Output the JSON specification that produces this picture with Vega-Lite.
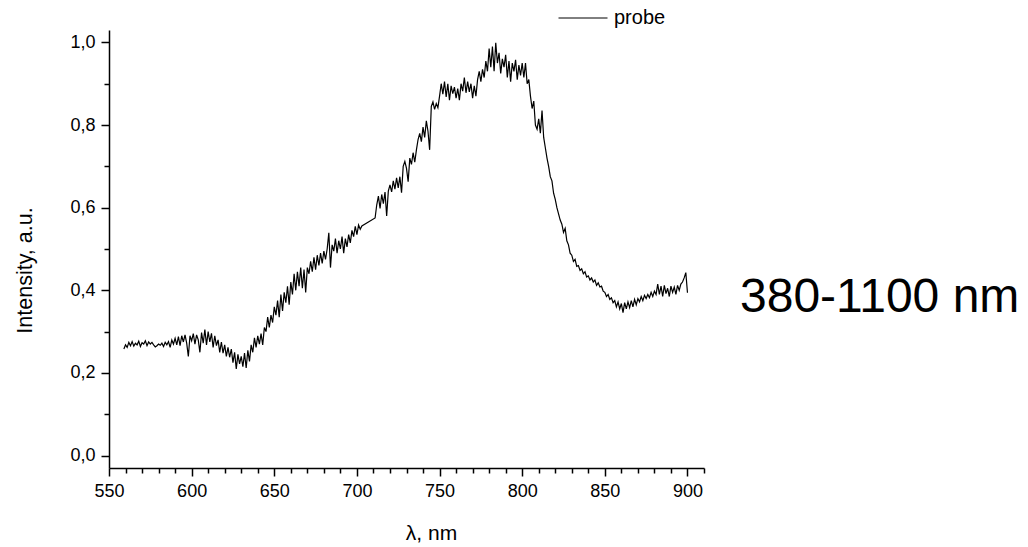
{
  "$schema": "https://vega.github.io/schema/vega-lite/v6.json",
  "autosize": "none",
  "padding": {"left": 109, "top": 30, "right": 324, "bottom": 79},
  "width": 595,
  "height": 438,
  "background": "white",
  "config": {"view": {"stroke": null}, "font": "Liberation Sans"},
  "title": {"text": "380-1100 nm", "orient": "top", "anchor": "start", "frame": "group", "offset": 0, "dx": 631, "dy": 353, "baseline": "middle", "fontSize": 48, "font": "Liberation Sans", "fontWeight": "normal", "color": "black"},
  "data": {"values": [
    {"wl":559,"i":0.258},{"wl":560,"i":0.268},{"wl":561,"i":0.262},{"wl":562,"i":0.274},{"wl":563,"i":0.266},{"wl":564,"i":0.276},{"wl":565,"i":0.265},{"wl":566,"i":0.272},{"wl":567,"i":0.268},{"wl":568,"i":0.277},
    {"wl":569,"i":0.264},{"wl":570,"i":0.273},{"wl":571,"i":0.27},{"wl":572,"i":0.278},{"wl":573,"i":0.266},{"wl":574,"i":0.275},{"wl":575,"i":0.27},{"wl":576,"i":0.274},{"wl":577,"i":0.268},{"wl":578,"i":0.263},
    {"wl":579,"i":0.266},{"wl":580,"i":0.27},{"wl":581,"i":0.267},{"wl":582,"i":0.272},{"wl":583,"i":0.264},{"wl":584,"i":0.274},{"wl":585,"i":0.268},{"wl":586,"i":0.276},{"wl":587,"i":0.262},{"wl":588,"i":0.28},
    {"wl":589,"i":0.27},{"wl":590,"i":0.284},{"wl":591,"i":0.268},{"wl":592,"i":0.288},{"wl":593,"i":0.266},{"wl":594,"i":0.29},{"wl":595,"i":0.275},{"wl":596,"i":0.292},{"wl":597,"i":0.272},{"wl":598,"i":0.24},
    {"wl":599,"i":0.29},{"wl":600,"i":0.278},{"wl":601,"i":0.295},{"wl":602,"i":0.27},{"wl":603,"i":0.292},{"wl":604,"i":0.28},{"wl":605,"i":0.25},{"wl":606,"i":0.298},{"wl":607,"i":0.272},{"wl":608,"i":0.305},
    {"wl":609,"i":0.268},{"wl":610,"i":0.3},{"wl":611,"i":0.275},{"wl":612,"i":0.296},{"wl":613,"i":0.262},{"wl":614,"i":0.29},{"wl":615,"i":0.266},{"wl":616,"i":0.28},{"wl":617,"i":0.25},{"wl":618,"i":0.275},
    {"wl":619,"i":0.248},{"wl":620,"i":0.268},{"wl":621,"i":0.24},{"wl":622,"i":0.262},{"wl":623,"i":0.238},{"wl":624,"i":0.258},{"wl":625,"i":0.225},{"wl":626,"i":0.25},{"wl":627,"i":0.21},{"wl":628,"i":0.245},
    {"wl":629,"i":0.222},{"wl":630,"i":0.24},{"wl":631,"i":0.215},{"wl":632,"i":0.248},{"wl":633,"i":0.212},{"wl":634,"i":0.255},{"wl":635,"i":0.228},{"wl":636,"i":0.268},{"wl":637,"i":0.25},{"wl":638,"i":0.285},
    {"wl":639,"i":0.262},{"wl":640,"i":0.29},{"wl":641,"i":0.27},{"wl":642,"i":0.295},{"wl":643,"i":0.268},{"wl":644,"i":0.31},{"wl":645,"i":0.3},{"wl":646,"i":0.335},{"wl":647,"i":0.31},{"wl":648,"i":0.34},
    {"wl":649,"i":0.322},{"wl":650,"i":0.36},{"wl":651,"i":0.34},{"wl":652,"i":0.375},{"wl":653,"i":0.335},{"wl":654,"i":0.39},{"wl":655,"i":0.35},{"wl":656,"i":0.395},{"wl":657,"i":0.37},{"wl":658,"i":0.41},
    {"wl":659,"i":0.365},{"wl":660,"i":0.42},{"wl":661,"i":0.39},{"wl":662,"i":0.44},{"wl":663,"i":0.4},{"wl":664,"i":0.445},{"wl":665,"i":0.41},{"wl":666,"i":0.455},{"wl":667,"i":0.405},{"wl":668,"i":0.45},
    {"wl":669,"i":0.395},{"wl":670,"i":0.455},{"wl":671,"i":0.44},{"wl":672,"i":0.47},{"wl":673,"i":0.445},{"wl":674,"i":0.48},{"wl":675,"i":0.45},{"wl":676,"i":0.485},{"wl":677,"i":0.46},{"wl":678,"i":0.49},
    {"wl":679,"i":0.465},{"wl":680,"i":0.495},{"wl":681,"i":0.475},{"wl":682,"i":0.5},{"wl":683,"i":0.539},{"wl":684,"i":0.455},{"wl":685,"i":0.51},{"wl":686,"i":0.495},{"wl":687,"i":0.525},{"wl":688,"i":0.49},
    {"wl":689,"i":0.52},{"wl":690,"i":0.5},{"wl":691,"i":0.53},{"wl":692,"i":0.49},{"wl":693,"i":0.525},{"wl":694,"i":0.505},{"wl":695,"i":0.535},{"wl":696,"i":0.515},{"wl":697,"i":0.545},{"wl":698,"i":0.53},
    {"wl":699,"i":0.555},{"wl":700,"i":0.535},{"wl":701,"i":0.558},{"wl":702,"i":0.548},{"wl":703,"i":0.556},{"wl":711,"i":0.575},{"wl":712,"i":0.607},{"wl":713,"i":0.628},{"wl":714,"i":0.598},{"wl":715,"i":0.632},
    {"wl":716,"i":0.61},{"wl":717,"i":0.638},{"wl":718,"i":0.58},{"wl":719,"i":0.64},{"wl":720,"i":0.655},{"wl":721,"i":0.638},{"wl":722,"i":0.665},{"wl":723,"i":0.645},{"wl":724,"i":0.672},{"wl":725,"i":0.648},
    {"wl":726,"i":0.675},{"wl":727,"i":0.636},{"wl":728,"i":0.7},{"wl":729,"i":0.712},{"wl":730,"i":0.695},{"wl":731,"i":0.663},{"wl":732,"i":0.72},{"wl":733,"i":0.705},{"wl":734,"i":0.733},{"wl":735,"i":0.71},
    {"wl":736,"i":0.74},{"wl":737,"i":0.765},{"wl":738,"i":0.78},{"wl":739,"i":0.76},{"wl":740,"i":0.795},{"wl":741,"i":0.77},{"wl":742,"i":0.81},{"wl":743,"i":0.785},{"wl":744,"i":0.74},{"wl":745,"i":0.845},
    {"wl":746,"i":0.856},{"wl":747,"i":0.838},{"wl":748,"i":0.852},{"wl":749,"i":0.842},{"wl":750,"i":0.87},{"wl":751,"i":0.9},{"wl":752,"i":0.875},{"wl":753,"i":0.905},{"wl":754,"i":0.868},{"wl":755,"i":0.9},
    {"wl":756,"i":0.86},{"wl":757,"i":0.895},{"wl":758,"i":0.876},{"wl":759,"i":0.892},{"wl":760,"i":0.865},{"wl":761,"i":0.888},{"wl":762,"i":0.86},{"wl":763,"i":0.9},{"wl":764,"i":0.882},{"wl":765,"i":0.915},
    {"wl":766,"i":0.878},{"wl":767,"i":0.905},{"wl":768,"i":0.88},{"wl":769,"i":0.9},{"wl":770,"i":0.865},{"wl":771,"i":0.895},{"wl":772,"i":0.87},{"wl":773,"i":0.91},{"wl":774,"i":0.93},{"wl":775,"i":0.905},
    {"wl":776,"i":0.935},{"wl":777,"i":0.915},{"wl":778,"i":0.955},{"wl":779,"i":0.93},{"wl":780,"i":0.985},{"wl":781,"i":0.94},{"wl":782,"i":0.99},{"wl":783,"i":0.93},{"wl":784,"i":0.999},{"wl":785,"i":0.95},
    {"wl":786,"i":0.975},{"wl":787,"i":0.925},{"wl":788,"i":0.96},{"wl":789,"i":0.94},{"wl":790,"i":0.97},{"wl":791,"i":0.915},{"wl":792,"i":0.955},{"wl":793,"i":0.905},{"wl":794,"i":0.95},{"wl":795,"i":0.93},
    {"wl":796,"i":0.958},{"wl":797,"i":0.91},{"wl":798,"i":0.945},{"wl":799,"i":0.92},{"wl":800,"i":0.95},{"wl":801,"i":0.915},{"wl":802,"i":0.95},{"wl":803,"i":0.9},{"wl":804,"i":0.91},{"wl":805,"i":0.87},
    {"wl":806,"i":0.84},{"wl":807,"i":0.858},{"wl":808,"i":0.8},{"wl":809,"i":0.79},{"wl":810,"i":0.815},{"wl":811,"i":0.78},{"wl":812,"i":0.835},{"wl":813,"i":0.77},{"wl":814,"i":0.745},{"wl":815,"i":0.72},
    {"wl":816,"i":0.7},{"wl":817,"i":0.675},{"wl":818,"i":0.665},{"wl":819,"i":0.635},{"wl":820,"i":0.62},{"wl":821,"i":0.6},{"wl":822,"i":0.585},{"wl":823,"i":0.57},{"wl":824,"i":0.56},{"wl":825,"i":0.54},
    {"wl":826,"i":0.55},{"wl":827,"i":0.52},{"wl":828,"i":0.51},{"wl":829,"i":0.49},{"wl":830,"i":0.485},{"wl":831,"i":0.47},{"wl":832,"i":0.475},{"wl":833,"i":0.458},{"wl":834,"i":0.46},{"wl":835,"i":0.448},
    {"wl":836,"i":0.452},{"wl":837,"i":0.44},{"wl":838,"i":0.445},{"wl":839,"i":0.432},{"wl":840,"i":0.435},{"wl":841,"i":0.425},{"wl":842,"i":0.43},{"wl":843,"i":0.42},{"wl":844,"i":0.425},{"wl":845,"i":0.412},
    {"wl":846,"i":0.418},{"wl":847,"i":0.408},{"wl":848,"i":0.41},{"wl":849,"i":0.398},{"wl":850,"i":0.395},{"wl":851,"i":0.385},{"wl":852,"i":0.39},{"wl":853,"i":0.378},{"wl":854,"i":0.382},{"wl":855,"i":0.37},
    {"wl":856,"i":0.375},{"wl":857,"i":0.36},{"wl":858,"i":0.372},{"wl":859,"i":0.355},{"wl":860,"i":0.368},{"wl":861,"i":0.346},{"wl":862,"i":0.37},{"wl":863,"i":0.355},{"wl":864,"i":0.372},{"wl":865,"i":0.358},
    {"wl":866,"i":0.375},{"wl":867,"i":0.36},{"wl":868,"i":0.378},{"wl":869,"i":0.365},{"wl":870,"i":0.38},{"wl":871,"i":0.372},{"wl":872,"i":0.385},{"wl":873,"i":0.375},{"wl":874,"i":0.388},{"wl":875,"i":0.38},
    {"wl":876,"i":0.39},{"wl":877,"i":0.382},{"wl":878,"i":0.395},{"wl":879,"i":0.385},{"wl":880,"i":0.398},{"wl":881,"i":0.39},{"wl":882,"i":0.415},{"wl":883,"i":0.39},{"wl":884,"i":0.41},{"wl":885,"i":0.385},
    {"wl":886,"i":0.412},{"wl":887,"i":0.392},{"wl":888,"i":0.405},{"wl":889,"i":0.385},{"wl":890,"i":0.41},{"wl":891,"i":0.395},{"wl":892,"i":0.408},{"wl":893,"i":0.39},{"wl":894,"i":0.412},{"wl":895,"i":0.4},
    {"wl":896,"i":0.415},{"wl":897,"i":0.42},{"wl":898,"i":0.43},{"wl":899,"i":0.443},{"wl":900,"i":0.394}
  ]},
  "mark": {"type": "line", "strokeWidth": 1.2, "interpolate": "linear"},
  "encoding": {
    "x": {
      "field": "wl", "type": "quantitative",
      "scale": {"domain": [550, 910], "nice": false, "zero": false},
      "axis": {
        "values": [550,560,570,580,590,600,610,620,630,640,650,660,670,680,690,700,710,720,730,740,750,760,770,780,790,800,810,820,830,840,850,860,870,880,890,900,910],
        "labelExpr": "datum.value % 50 === 0 ? datum.label : ''",
        "format": "d",
        "grid": false,
        "domainColor": "black", "domainWidth": 1.5,
        "tickColor": "black", "tickWidth": 1.5,
        "tickSize": {"condition": {"test": "datum.value % 50 === 0", "value": 8}, "value": 5},
        "labelFont": "Liberation Sans", "labelFontSize": 18, "labelColor": "black", "labelPadding": 6,
        "labelFlush": false, "labelOverlap": false,
        "title": "λ, nm", "titleFont": "Liberation Sans", "titleFontSize": 21, "titleFontWeight": "normal", "titleColor": "black",
        "titleX": 322, "titleY": 65, "titleBaseline": "middle", "titleAlign": "center"
      }
    },
    "y": {
      "field": "i", "type": "quantitative",
      "scale": {"domain": [-0.03, 1.03], "nice": false, "zero": false},
      "axis": {
        "values": [0,0.1,0.2,0.3,0.4,0.5,0.6,0.7,0.8,0.9,1.0],
        "labelExpr": "round(datum.value*10) % 2 === 0 ? replace(format(datum.value, '.1f'), '.', ',') : ''",
        "grid": false,
        "domainColor": "black", "domainWidth": 1.5,
        "tickColor": "black", "tickWidth": 1.5,
        "tickSize": {"condition": {"test": "round(datum.value*10) % 2 === 0", "value": 8}, "value": 5},
        "labelFont": "Liberation Sans", "labelFontSize": 18, "labelColor": "black", "labelPadding": 6,
        "labelFlush": false, "labelOverlap": false,
        "title": "Intensity, a.u.", "titleFont": "Liberation Sans", "titleFontSize": 21.5, "titleFontWeight": "normal", "titleColor": "black",
        "titleX": -84, "titleY": 240, "titleBaseline": "middle", "titleAlign": "center", "titleAngle": 270
      }
    },
    "color": {
      "datum": "probe", "type": "nominal",
      "scale": {"range": ["black"]},
      "legend": {
        "orient": "none", "legendX": 449, "legendY": -37,
        "title": null, "symbolType": "stroke", "symbolSize": 2401, "symbolStrokeWidth": 1,
        "labelFont": "Liberation Sans", "labelFontSize": 20, "labelColor": "black", "labelOffset": 6, "padding": 0
      }
    }
  }
}
